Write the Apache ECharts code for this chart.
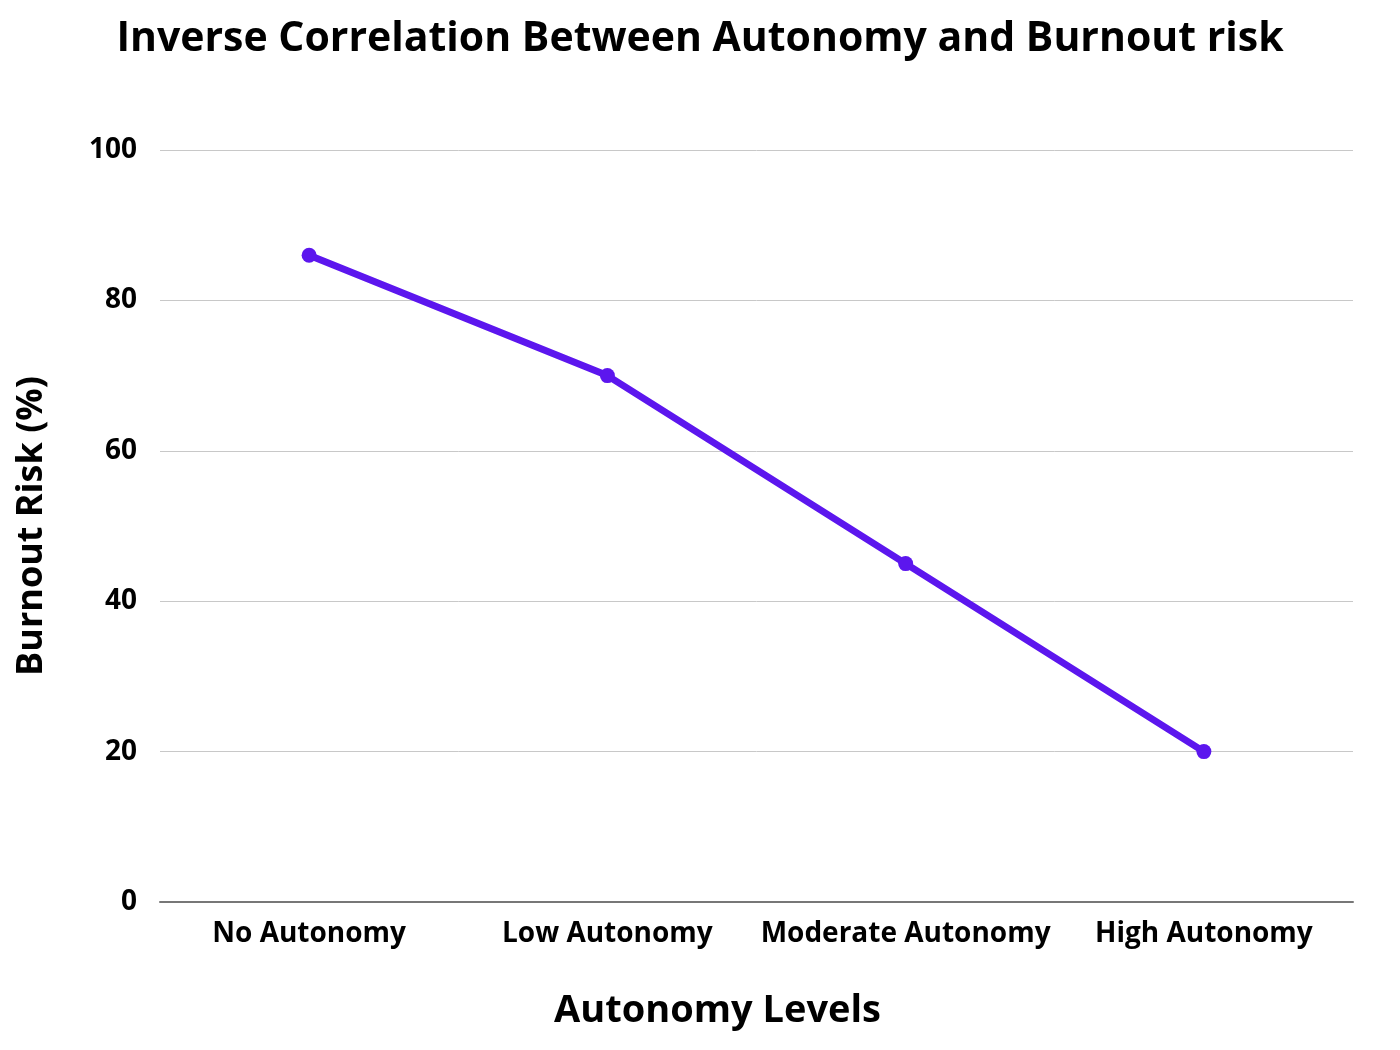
<!DOCTYPE html>
<html>
<head>
<meta charset="utf-8">
<script src="https://cdn.jsdelivr.net/npm/echarts@6/dist/echarts.min.js"></script>
<style>
  html, body { margin: 0; padding: 0; background: #fff; }
  #chart { width: 1400px; height: 1050px; }
</style>
</head>
<body>
<div id="chart"></div>
<script>
// autonomy levels and burnout risk (%)
const categories = ['No Autonomy', 'Low Autonomy', 'Moderate Autonomy', 'High Autonomy'];
const burnoutRisk = [86, 70, 45, 20];
const yTicks = [0, 20, 40, 60, 80, 100];

const myChart = echarts.init(document.getElementById('chart'));
const font = '"Open Sans", "DejaVu Sans", sans-serif';

const option = {
  backgroundColor: '#ffffff',
  title: {
    text: 'Inverse Correlation Between Autonomy and Burnout risk',
    left: 'center',
    top: 14,
    textStyle: { fontFamily: font, fontWeight: 'bold', fontSize: 41, color: '#000' }
  },
  grid: { left: 160, right: 47, top: 150, bottom: 148 },
  xAxis: {
    type: 'category',
    data: categories,
    boundaryGap: true,
    name: 'Autonomy Levels',
    nameLocation: 'middle',
    nameGap: 90,
    nameTextStyle: {
      fontFamily: font, fontWeight: 'bold', fontSize: 38, color: '#000',
      padding: [0, 78, 0, 0]
    },
    axisLine: { show: true, lineStyle: { color: '#777', width: 2 } },
    axisTick: { show: false },
    axisLabel: {
      interval: 0, fontFamily: font, fontWeight: 'bold', fontSize: 28, color: '#000', margin: 18
    }
  },
  yAxis: {
    type: 'value',
    min: yTicks[0],
    max: yTicks[yTicks.length - 1],
    interval: 20,
    name: 'Burnout Risk (%)',
    nameLocation: 'middle',
    nameGap: 110,
    nameTextStyle: { fontFamily: font, fontWeight: 'bold', fontSize: 36, color: '#000' },
    axisLine: { show: false },
    axisTick: { show: false },
    axisLabel: { fontFamily: font, fontWeight: 'bold', fontSize: 28, color: '#000', margin: 23 },
    splitLine: { show: true, lineStyle: { color: '#c8c8c8', width: 1 } }
  },
  series: [{
    type: 'line',
    data: burnoutRisk,
    symbol: 'circle',
    symbolSize: 15,
    lineStyle: { color: '#5c16ee', width: 7 },
    itemStyle: { color: '#5c16ee' },
    z: 3
  }],
  animation: false
};

myChart.setOption(option);
</script>
</body>
</html>
